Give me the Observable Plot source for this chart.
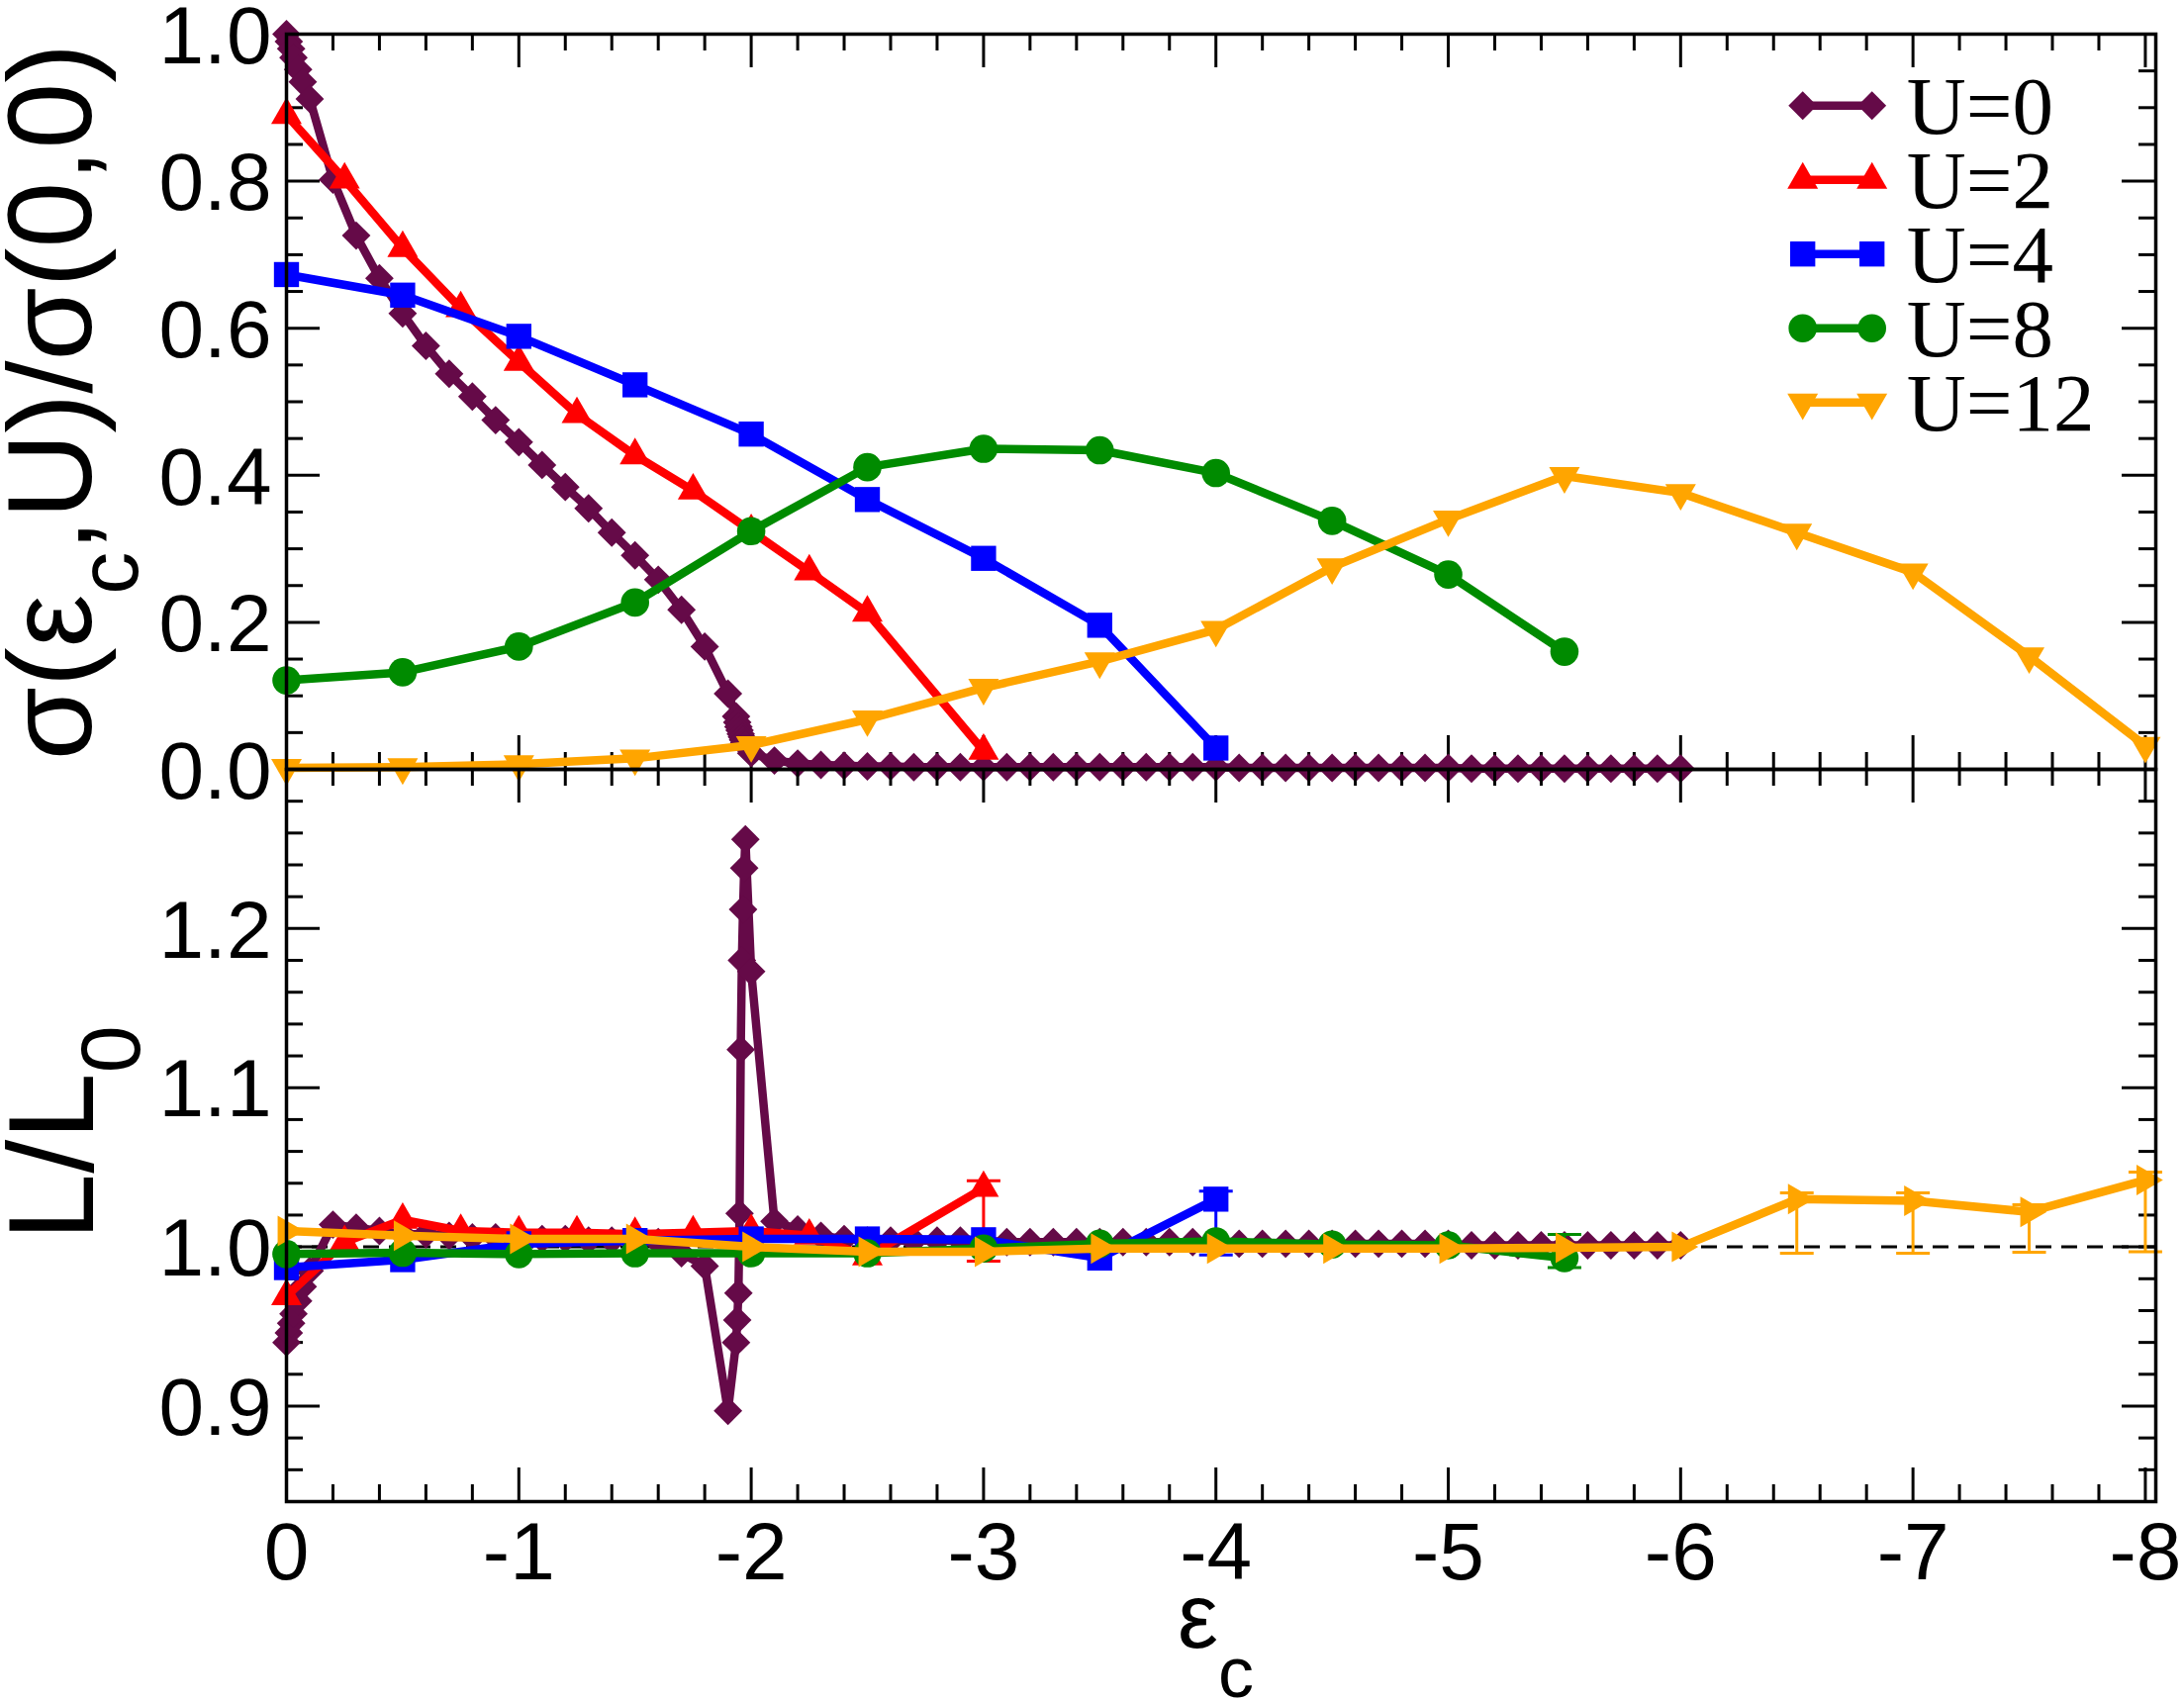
<!DOCTYPE html>
<html>
<head>
<meta charset="utf-8">
<script src="https://cdn.jsdelivr.net/npm/d3@7"></script>
<script src="https://cdn.jsdelivr.net/npm/@observablehq/plot@0.6"></script>
<style>
  html, body { margin: 0; padding: 0; background: #fff; }
  #wrap { position: relative; width: 2207px; height: 1719px; overflow: hidden; background: #fff; }
  #wrap svg { position: absolute; left: 0; }
</style>
</head>
<body>
<div id="wrap"></div>
<script>
// ---------------- data ----------------
const seriesNames = ["U=0", "U=2", "U=4", "U=8", "U=12"];
const seriesColors = ["#650a48", "#ff0000", "#0000ff", "#008b00", "#ffa500"];

// U = 0
const u0X = [0, -0.01, -0.02, -0.03, -0.05, -0.07, -0.1,
  -0.2, -0.3, -0.4, -0.5, -0.6, -0.7, -0.8, -0.9, -1.0, -1.1, -1.2, -1.3, -1.4, -1.5, -1.6, -1.7, -1.8, -1.9,
  -1.935, -1.94, -1.945, -1.95, -1.955, -1.96, -1.965, -1.97, -1.975,
  -2.0,
  -2.1, -2.2, -2.3, -2.4, -2.5, -2.6, -2.7, -2.8, -2.9, -3.0,
  -3.1, -3.2, -3.3, -3.4, -3.5, -3.6, -3.7, -3.8, -3.9, -4.0,
  -4.1, -4.2, -4.3, -4.4, -4.5, -4.6, -4.7, -4.8, -4.9, -5.0,
  -5.1, -5.2, -5.3, -5.4, -5.5, -5.6, -5.7, -5.8, -5.9, -6.0];
const u0Sigma = [1.000, 0.990, 0.980, 0.968, 0.952, 0.935, 0.912,
  0.802, 0.726, 0.668, 0.620, 0.576, 0.538, 0.507, 0.475, 0.445, 0.414, 0.384, 0.355, 0.322, 0.291, 0.258, 0.217, 0.167, 0.103,
  0.072, 0.064, 0.058, 0.053, 0.048, 0.044, 0.040, 0.036, 0.033,
  0.022,
  0.012, 0.008, 0.006, 0.005, 0.004, 0.004, 0.003, 0.003, 0.003, 0.003,
  0.003, 0.003, 0.003, 0.003, 0.003, 0.003, 0.003, 0.003, 0.003, 0.003,
  0.002, 0.002, 0.002, 0.002, 0.002, 0.002, 0.002, 0.002, 0.002, 0.002,
  0.001, 0.001, 0.001, 0.001, 0.001, 0.001, 0.001, 0.001, 0.001, 0.001];
const u0L = [0.940, 0.946, 0.952, 0.958, 0.966, 0.975, 0.985,
  1.014, 1.012, 1.010, 1.008, 1.008, 1.007, 1.006, 1.006, 1.005, 1.005, 1.005, 1.004, 1.004, 1.004, 1.003, 0.996, 0.988, 0.897,
  0.940, 0.954, 0.971, 1.021, 1.124, 1.180, 1.212, 1.238, 1.256,
  1.173,
  1.016, 1.011, 1.007, 1.005, 1.004, 1.004, 1.004, 1.004, 1.004, 1.004,
  1.003, 1.003, 1.003, 1.003, 1.003, 1.003, 1.003, 1.003, 1.003, 1.003,
  1.002, 1.002, 1.002, 1.002, 1.002, 1.002, 1.002, 1.002, 1.002, 1.002,
  1.001, 1.001, 1.001, 1.001, 1.001, 1.001, 1.001, 1.001, 1.001, 1.001];

// U = 2
const u2X = [0, -0.25, -0.5, -0.75, -1.0, -1.25, -1.5, -1.75, -2.0, -2.25, -2.5, -3.0];
const u2Sigma = [0.890, 0.802, 0.709, 0.627, 0.554, 0.483, 0.427, 0.379, 0.324, 0.269, 0.213, 0.025];
const u2L = [0.969, 1.003, 1.017, 1.010, 1.009, 1.009, 1.008, 1.009, 1.010, 1.007, 0.994, 1.037];

// U = 4
const u4X = [0, -0.5, -1.0, -1.5, -2.0, -2.5, -3.0, -3.5, -4.0];
const u4Sigma = [0.673, 0.645, 0.589, 0.523, 0.456, 0.367, 0.287, 0.196, 0.029];
const u4L = [0.987, 0.992, 1.002, 1.004, 1.005, 1.005, 1.0045, 0.993, 1.030];

// U = 8
const u8X = [0, -0.5, -1.0, -1.5, -2.0, -2.5, -3.0, -3.5, -4.0, -4.5, -5.0, -5.5];
const u8Sigma = [0.121, 0.132, 0.167, 0.227, 0.324, 0.411, 0.436, 0.434, 0.403, 0.338, 0.265, 0.160];
const u8L = [0.9955, 0.9963, 0.9955, 0.996, 0.996, 0.996, 0.999, 1.002, 1.0035, 1.0015, 1.001, 0.993];

// U = 12
const u12X = [0, -0.5, -1.0, -1.5, -2.0, -2.5, -3.0, -3.5, -4.0, -4.5, -5.0, -5.5, -6.0, -6.5, -7.0, -7.5, -8.0];
const u12Sigma = [0.002, 0.003, 0.007, 0.015, 0.033, 0.068, 0.111, 0.147, 0.190, 0.275, 0.340, 0.399, 0.376, 0.322, 0.268, 0.154, 0.032];
const u12L = [1.010, 1.007, 1.005, 1.005, 1.000, 0.997, 0.997, 0.999, 0.999, 0.999, 0.999, 0.9995, 1.000, 1.030, 1.029, 1.022, 1.042];

// error bars on L/L0
const errSeries = ["U=2", "U=4", "U=8", "U=12", "U=12", "U=12", "U=12"];
const errX = [-3.0, -4.0, -5.5, -6.5, -7.0, -7.5, -8.0];
const errLo = [0.991, 0.995, 0.987, 0.996, 0.996, 0.9967, 0.9969];
const errHi = [1.0415, 1.035, 1.0078, 1.034, 1.034, 1.0265, 1.047];

// tick labels
const xTickValues = [0, -1, -2, -3, -4, -5, -6, -7, -8];
const sigmaTickValues = [0, 0.2, 0.4, 0.6, 0.8, 1.0];
const lTickValues = [0.9, 1.0, 1.1, 1.2];

// ---------------- build tables ----------------
const seriesDefs = [
  {name: "U=0", xs: u0X, s: u0Sigma, l: u0L, symbol: "diamond2", r: 13, rotU: 0, rotL: 0},
  {name: "U=2", xs: u2X, s: u2Sigma, l: u2L, symbol: "triangle", r: 11.5, rotU: 0, rotL: 0},
  {name: "U=4", xs: u4X, s: u4Sigma, l: u4L, symbol: "square", r: 14.3, rotU: 0, rotL: 0},
  {name: "U=8", xs: u8X, s: u8Sigma, l: u8L, symbol: "circle", r: 14.3, rotU: 0, rotL: 0},
  {name: "U=12", xs: u12X, s: u12Sigma, l: u12L, symbol: "triangle", r: 11.5, rotU: 180, rotL: 90}
].map((d, i) => ({...d, color: seriesColors[i],
  rows: d.xs.map((x, j) => ({x, s: d.s[j], l: d.l[j]}))}));

const errRows = errX.map((x, i) => ({series: errSeries[i], x, lo: errLo[i], hi: errHi[i]}));

// ---------------- layout ----------------
const W = 2207;
const mLeft = 289, mRight = 29;
const frameW = W - mLeft - mRight;
const xDomain = [0, -8.045];
const fontSans = "'Liberation Sans', Arial, Helvetica, sans-serif";
const lineW = 8.5;

const xMinor = d3.range(1, 41).filter(i => i % 5).map(i => -i * 0.2);
const sigmaMinor = d3.range(1, 20).filter(i => i % 4).map(i => i * 0.05);
const lMinor = d3.range(42, 66).filter(i => i % 5).map(i => i * 0.02);

function tickMarks(yMaj, yMin, fh) {
  const L = 34, l = 17, sw = 3;
  return [
    Plot.tickX(xTickValues, {x: d => d, insetTop: fh - L, strokeWidth: sw}),
    Plot.tickX(xTickValues, {x: d => d, insetBottom: fh - L, strokeWidth: sw}),
    Plot.tickX(xMinor, {x: d => d, insetTop: fh - l, strokeWidth: sw}),
    Plot.tickX(xMinor, {x: d => d, insetBottom: fh - l, strokeWidth: sw}),
    Plot.tickY(yMaj, {y: d => d, insetRight: frameW - L, strokeWidth: sw}),
    Plot.tickY(yMaj, {y: d => d, insetLeft: frameW - L, strokeWidth: sw}),
    Plot.tickY(yMin, {y: d => d, insetRight: frameW - l, strokeWidth: sw}),
    Plot.tickY(yMin, {y: d => d, insetLeft: frameW - l, strokeWidth: sw})
  ];
}

const capSymbol = {draw(ctx) { ctx.moveTo(-17, 0); ctx.lineTo(17, 0); }};

function seriesMarks(def, key, rot, withErr) {
  const marks = [];
  if (withErr) {
    const e = errRows.filter(r => r.series === def.name);
    if (e.length) {
      marks.push(Plot.ruleX(e, {x: "x", y1: "lo", y2: "hi", stroke: def.color, strokeWidth: 3}));
      marks.push(Plot.dot(e, {x: "x", y: "lo", symbol: capSymbol, stroke: def.color, fill: "none", strokeWidth: 3}));
      marks.push(Plot.dot(e, {x: "x", y: "hi", symbol: capSymbol, stroke: def.color, fill: "none", strokeWidth: 3}));
    }
  }
  marks.push(Plot.line(def.rows, {x: "x", y: key, stroke: def.color, strokeWidth: lineW}));
  marks.push(Plot.dot(def.rows, {x: "x", y: key, symbol: def.symbol, r: def.r, fill: def.color, stroke: "none", rotate: rot}));
  return marks;
}

// ---------------- upper panel ----------------
const upperH = 800, upperTop = 34, upperBottom = 23;
const upper = Plot.plot({
  width: W, height: upperH,
  marginLeft: mLeft, marginRight: mRight, marginTop: upperTop, marginBottom: upperBottom,
  x: {domain: xDomain, axis: null},
  y: {domain: [0, 1], label: null},
  style: {background: "transparent", fontFamily: fontSans, overflow: "visible", color: "black"},
  marks: [
    ...tickMarks(sigmaTickValues, sigmaMinor, upperH - upperTop - upperBottom),
    Plot.axisY(sigmaTickValues, {tickSize: 0, tickPadding: 15, tickFormat: d3.format(".1f"), fontSize: 82, label: null, dy: 3}),
    ...seriesDefs.flatMap(d => seriesMarks(d, "s", d.rotU, false)),
    Plot.frame({stroke: "black", strokeWidth: 3.5})
  ]
});

// ---------------- lower panel ----------------
const lowerTopPx = 757, lowerH = 1719 - 757, lowerTop = 20, lowerBottom = 202;
const lower = Plot.plot({
  width: W, height: lowerH,
  marginLeft: mLeft, marginRight: mRight, marginTop: lowerTop, marginBottom: lowerBottom,
  x: {domain: xDomain, label: null},
  y: {domain: [0.84, 1.30], label: null},
  style: {background: "transparent", fontFamily: fontSans, overflow: "visible", color: "black"},
  marks: [
    Plot.ruleY([1.0], {stroke: "black", strokeWidth: 3, strokeDasharray: "16,10"}),
    ...tickMarks(lTickValues, lMinor, lowerH - lowerTop - lowerBottom),
    Plot.axisY(lTickValues, {tickSize: 0, tickPadding: 15, tickFormat: d3.format(".1f"), fontSize: 82, label: null, dy: 3}),
    Plot.axisX(xTickValues, {tickSize: 0, tickPadding: 20, tickFormat: d => String(d), fontSize: 82, label: null}),
    ...seriesDefs.flatMap(d => seriesMarks(d, "l", d.rotL, true)),
    Plot.frame({stroke: "black", strokeWidth: 3.5})
  ]
});

const wrap = document.getElementById("wrap");
upper.style.top = "0px";
lower.style.top = lowerTopPx + "px";
wrap.appendChild(upper);
wrap.appendChild(lower);

// ---------------- labels and legend ----------------
const ov = d3.select(wrap).append("svg")
  .attr("width", W).attr("height", 1719)
  .style("top", "0px").style("pointer-events", "none");

// y label upper
const t1 = ov.append("text")
  .attr("transform", "translate(92,406) rotate(-90)")
  .attr("text-anchor", "middle")
  .attr("font-family", fontSans).attr("font-size", 120).attr("fill", "black");
t1.append("tspan").text("σ(ε");
t1.append("tspan").attr("font-size", 86).attr("dy", 47).text("c");
t1.append("tspan").attr("dy", -47).text(",U)/σ(0,0)");

// y label lower
const t2 = ov.append("text")
  .attr("transform", "translate(94,1145) rotate(-90)")
  .attr("text-anchor", "middle")
  .attr("font-family", fontSans).attr("font-size", 122).attr("fill", "black");
t2.append("tspan").text("L/L");
t2.append("tspan").attr("font-size", 86).attr("dy", 47).text("0");

// x label
const t3 = ov.append("text")
  .attr("x", 1190).attr("y", 1665)
  .attr("font-family", fontSans).attr("font-size", 92).attr("fill", "black");
t3.append("tspan").text("ε");
t3.append("tspan").attr("font-size", 72).attr("dy", 50).text("c");

// legend
const symMap = {diamond2: d3.symbolDiamond2, triangle: d3.symbolTriangle, square: d3.symbolSquare, circle: d3.symbolCircle};
seriesDefs.forEach((d, i) => {
  const cy = 106.7 + 75 * i;
  const x1 = 1821.7, x2 = 1891.7;
  const g = ov.append("g");
  g.append("line").attr("x1", x1).attr("x2", x2).attr("y1", cy).attr("y2", cy)
    .attr("stroke", d.color).attr("stroke-width", lineW);
  const p = d3.symbol(symMap[d.symbol], Math.PI * d.r * d.r)();
  [x1, x2].forEach(x => {
    g.append("path").attr("d", p).attr("fill", d.color)
      .attr("transform", `translate(${x},${cy}) rotate(${d.rotU})`);
  });
  g.append("text").attr("x", 1926.7).attr("y", cy + 28)
    .attr("font-family", "'Liberation Serif', 'Times New Roman', serif")
    .attr("font-size", 83).attr("fill", "black").text(d.name);
});
</script>
</body>
</html>
